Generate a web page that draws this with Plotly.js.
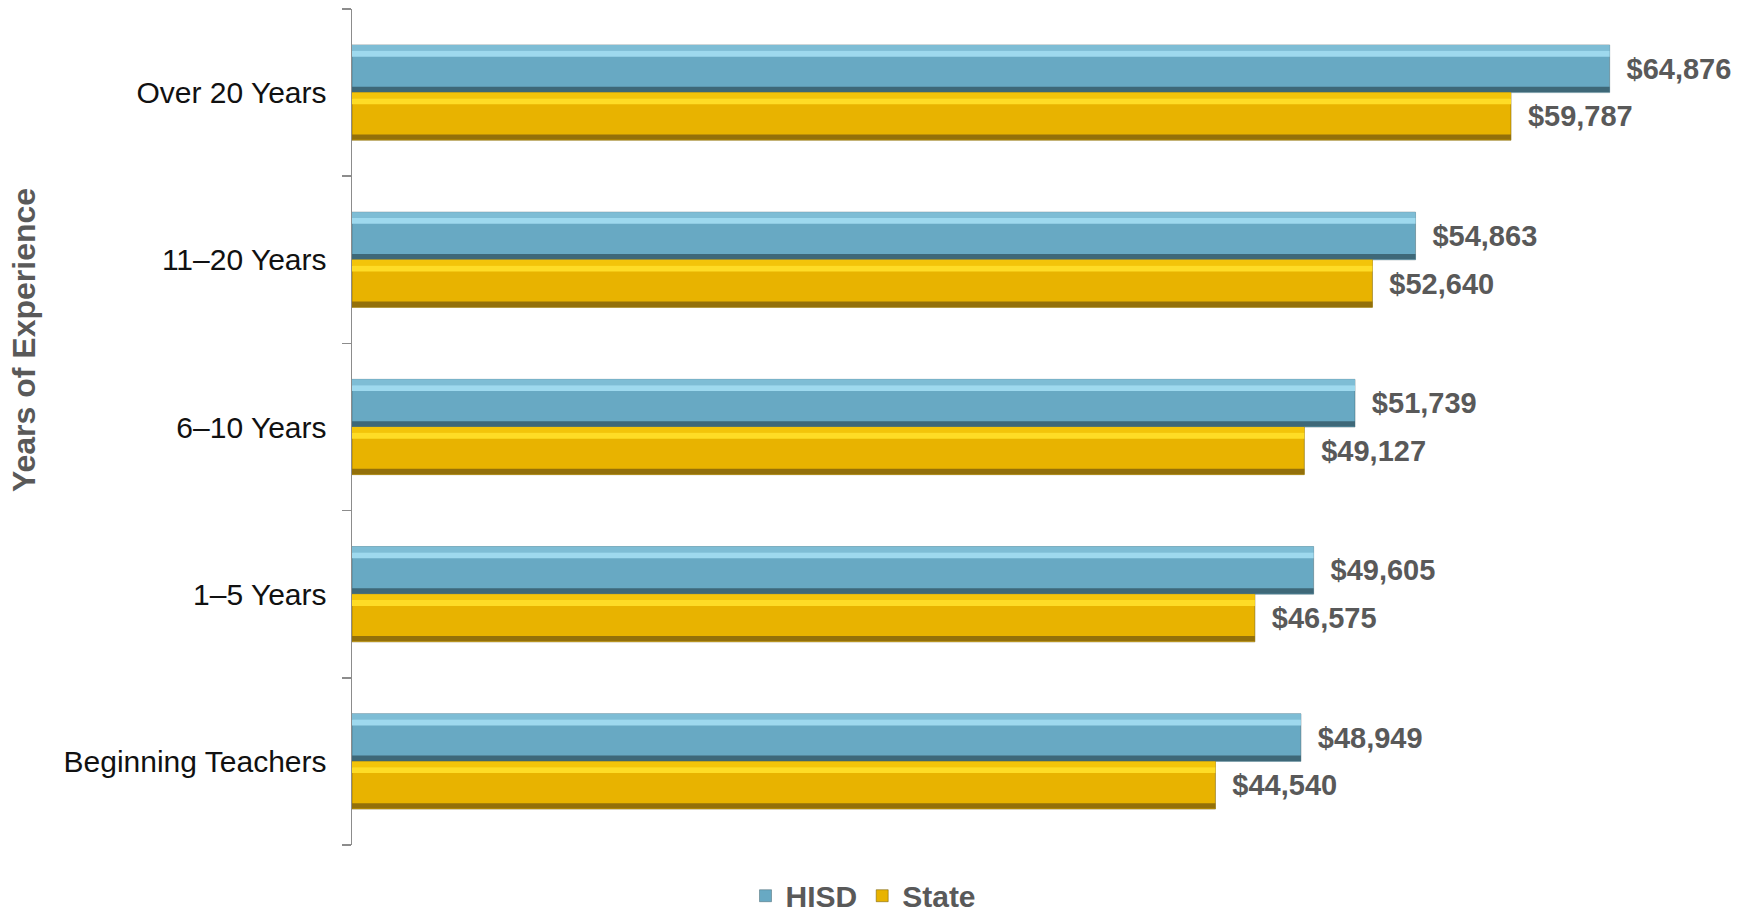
<!DOCTYPE html>
<html>
<head>
<meta charset="utf-8">
<script src="https://cdn.plot.ly/plotly-3.0.1.min.js"></script>
<style>html,body{margin:0;padding:0;background:#fff;}#chart{width:1748px;height:914px;}</style>
</head>
<body>
<div id="chart"></div>
<script>
const categories = ['Beginning Teachers', '1–5 Years', '6–10 Years', '11–20 Years', 'Over 20 Years'];
const hisd = [48949, 49605, 51739, 54863, 64876];
const state = [44540, 46575, 49127, 52640, 59787];
const seriesNames = ['HISD', 'State'];
const yTitle = 'Years of Experience';

const FONT = 'Liberation Sans, Arial, sans-serif';
const GRAY = '#595959';
const W = 0.285;

function bar(vals, name, color, offset, width, opts) {
  return Object.assign({
    type: 'bar', orientation: 'h', y: categories, x: vals, name: name,
    offset: offset, width: width,
    marker: { color: color, line: { width: 0 } },
    hoverinfo: 'skip', showlegend: false, cliponaxis: false
  }, opts || {});
}

const traces = [
  // HISD main
  bar(hisd, seriesNames[0], '#68a9c3', 0, W, {
    showlegend: true, hoverinfo: 'x+name',
    marker: { color: '#68a9c3', line: { width: 1, color: 'rgba(60,90,100,0.45)' } },
    texttemplate: '\u00a0\u2009$%{x:,}', textposition: 'outside',
    textfont: { family: FONT, size: 29, color: GRAY, weight: 'bold' }
  }),
  bar(hisd, seriesNames[0], '#7ebdd5', 0.25, 0.035),
  bar(hisd, seriesNames[0], '#9ed9ee', 0.215, 0.035),
  bar(hisd, seriesNames[0], '#3e6878', 0.003, 0.032),
  // State main
  bar(state, seriesNames[1], '#e8b300', -W, W, {
    showlegend: true, hoverinfo: 'x+name',
    marker: { color: '#e8b300', line: { width: 1, color: 'rgba(110,85,0,0.5)' } },
    texttemplate: '\u00a0\u2009$%{x:,}', textposition: 'outside',
    textfont: { family: FONT, size: 29, color: GRAY, weight: 'bold' }
  }),
  bar(state, seriesNames[1], '#f3c40a', -0.035, 0.035),
  bar(state, seriesNames[1], '#fedc26', -0.07, 0.035),
  bar(state, seriesNames[1], '#93700a', -W + 0.003, 0.032)
];

const layout = {
  width: 1748, height: 914,
  margin: { l: 352, r: 39, t: 9, b: 69 },
  paper_bgcolor: '#ffffff', plot_bgcolor: '#ffffff',
  barmode: 'overlay',
  font: { family: FONT, color: '#000' },
  xaxis: {
    range: [0, 70000], visible: false, showgrid: false, zeroline: false
  },
  yaxis: {
    type: 'category', categoryorder: 'array', categoryarray: categories,
    range: [-0.5, 4.5],
    showline: true, linecolor: '#8c8c8c', linewidth: 1.5,
    ticks: 'outside', ticklen: 9, tickcolor: '#8c8c8c', tickwidth: 1.5,
    tickson: 'boundaries', showgrid: false, zeroline: false,
    tickfont: { family: FONT, size: 30, color: '#111' },
    ticklabelstandoff: 18
  },
  legend: {
    orientation: 'h', xref: 'container', yref: 'container',
    x: 0.494, xanchor: 'center', y: 0.02, yanchor: 'middle',
    font: { family: FONT, size: 30, color: GRAY, weight: 'bold' },
    itemwidth: 30, traceorder: 'normal'
  },
  annotations: [{
    text: yTitle, xref: 'paper', yref: 'paper',
    x: -0.2417, y: 0.604, xanchor: 'center', yanchor: 'middle',
    textangle: -90, showarrow: false,
    font: { family: FONT, size: 32, color: GRAY, weight: 'bold' }
  }],
  showlegend: true
};

Plotly.newPlot('chart', traces, layout, { displayModeBar: false, staticPlot: true });
</script>
</body>
</html>
